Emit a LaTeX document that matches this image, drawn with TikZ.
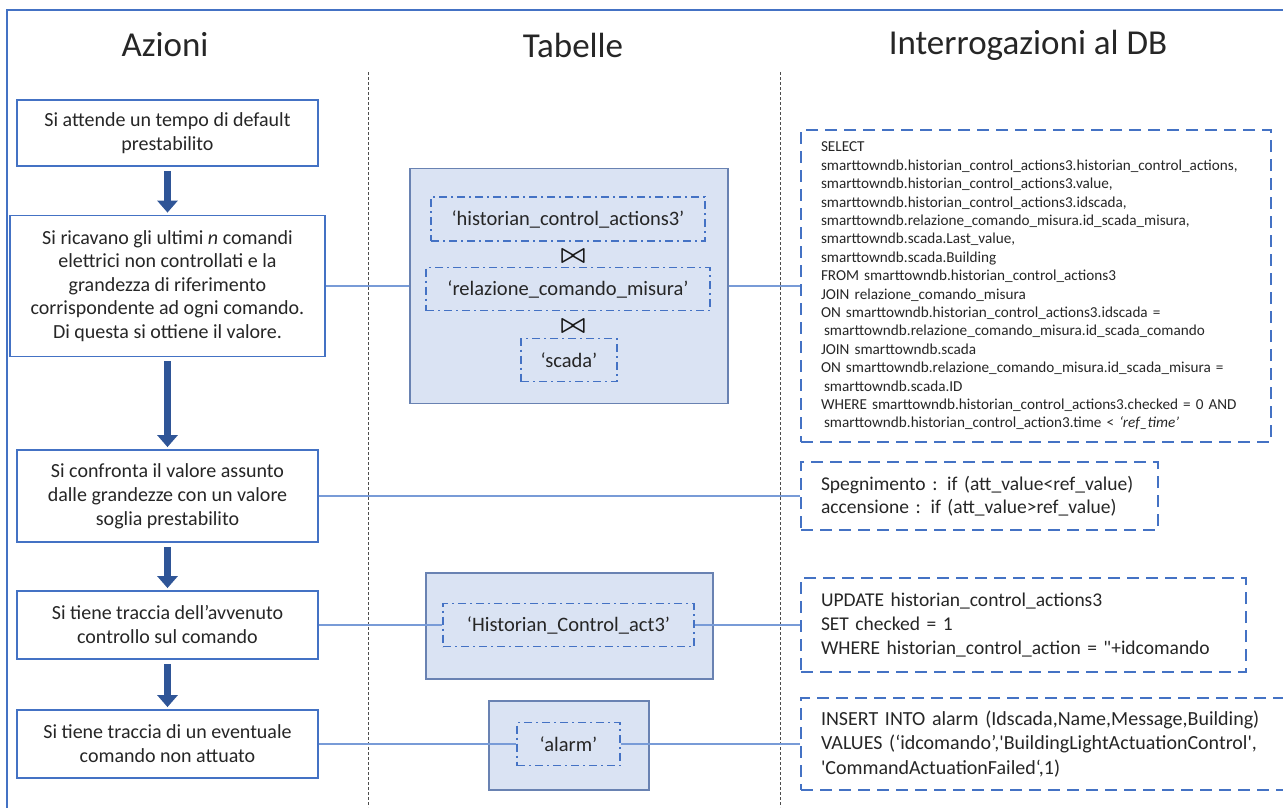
\documentclass[tikz,border=0pt]{standalone}
\usepackage{fontspec}
\setmainfont{Carlito}
\usetikzlibrary{arrows.meta}

\definecolor{ofblue}{RGB}{68,114,196}
\definecolor{ofdark}{RGB}{47,85,151}
\definecolor{tabfill}{RGB}{218,227,243}
\definecolor{tabline}{RGB}{105,130,178}
\definecolor{linkblue}{RGB}{120,155,215}

\begin{document}
\begin{tikzpicture}[x=1pt,y=-1pt,text=black!85,
    action/.style={draw=ofblue,line width=1.8pt,fill=white,align=center,inner sep=0pt,
        font=\fontsize{20}{24}\selectfont},
    tablebox/.style={draw=tabline,line width=1.2pt,fill=tabfill,inner sep=0pt},
    relation/.style={draw=ofblue,line width=1.8pt,dash pattern=on 8pt off 4pt on 2pt off 4pt,
        inner sep=0pt,font=\fontsize{20.5}{24}\selectfont},
    joinsym/.style={inner sep=0pt,text=black!90},
    query/.style={draw=ofblue,line width=2pt,dash pattern=on 12pt off 7pt,anchor=west,
        align=left,inner xsep=20pt,inner ysep=0pt},
    flow/.style={ofdark,line width=7pt,-{Triangle[width=20pt,length=12pt]},
        shorten <=4pt,shorten >=2pt},
    link/.style={linkblue,line width=1.2pt},
    sepline/.style={black!70,line width=0.6pt,densely dashed},
    heading/.style={font=\fontsize{35}{40}\selectfont}]

    \useasboundingbox (0,0) rectangle (1283,807);
    \clip (0,0) rectangle (1283,807);
    \draw[ofblue,line width=1.5pt] (7,815) -- (7,10) -- (1290,10);

    % columns
    \node[heading] (hact) at (165,45) {Azioni};
    \node[heading] (htab) at (573,45) {Tabelle};
    \node[heading] (hqry) at (1028,45) {Interrogazioni al DB};
    \draw[sepline] (368,72) -- (368,807);
    \draw[sepline] (780,72) -- (780,807);

    % azioni
    \node[action,minimum width=301,minimum height=66] (wait) at (167.5,133)
        {Si attende un tempo di default\\prestabilito};
    \node[action,minimum width=315,minimum height=141,font=\fontsize{20}{23.5}\selectfont] (fetch) at (167.5,286)
        {Si ricavano gli ultimi \textit{n} comandi\\elettrici non controllati e la\\grandezza di riferimento\\corrispondente ad ogni comando.\\Di questa si ottiene il valore.};
    \node[action,minimum width=301,minimum height=92] (compare) at (167.5,496)
        {Si confronta il valore assunto\\dalle grandezze con un valore\\soglia prestabilito};
    \node[action,minimum width=301,minimum height=68] (track) at (167.5,625)
        {Si tiene traccia dell’avvenuto\\controllo sul comando};
    \node[action,minimum width=301,minimum height=68] (alarm) at (167.5,744)
        {Si tiene traccia di un eventuale\\comando non attuato};

    \draw[flow] (wait) -- (fetch);
    \draw[flow] (fetch) -- (compare);
    \draw[flow] (compare) -- (track);
    \draw[flow] (track) -- (alarm);

    % tabelle
    \node[tablebox,minimum width=318,minimum height=235] (tjoin) at (569,286) {};
    \node[relation,minimum width=274,minimum height=44] (rhist) at (568,219) {‘historian\_control\_actions3’};
    \node[joinsym] (j1) at (573,256) {\scalebox{2.6}{\boldmath$\bowtie$}};
    \node[relation,minimum width=284,minimum height=43] (rrel) at (568,289) {‘relazione\_comando\_misura’};
    \node[joinsym] (j2) at (573,326) {\scalebox{2.6}{\boldmath$\bowtie$}};
    \node[relation,minimum width=96,minimum height=43] (rscada) at (569,360) {‘scada’};

    \node[tablebox,minimum width=287,minimum height=106] (tupd) at (569.5,626) {};
    \node[relation,minimum width=251,minimum height=43] (rhc) at (568.5,625) {‘Historian\_Control\_act3’};

    \node[tablebox,minimum width=160,minimum height=89] (tins) at (569,745.5) {};
    \node[relation,minimum width=103,minimum height=43] (ralarm) at (568.5,744) {‘alarm’};

    % interrogazioni
    \node[query,text width=430,minimum height=312,font=\fontsize{15.2}{18.4}\selectfont] (qsel) at (800,286)
        {SELECT\\
        smarttowndb.historian\_control\_actions3.historian\_control\_actions,\\
        smarttowndb.historian\_control\_actions3.value,\\
        smarttowndb.historian\_control\_actions3.idscada,\\
        smarttowndb.relazione\_comando\_misura.id\_scada\_misura,\\
        smarttowndb.scada.Last\_value,\\
        smarttowndb.scada.Building\\
        FROM smarttowndb.historian\_control\_actions3\\
        JOIN relazione\_comando\_misura\\
        ON smarttowndb.historian\_control\_actions3.idscada =\\
        \hspace*{3pt}smarttowndb.relazione\_comando\_misura.id\_scada\_comando\\
        JOIN smarttowndb.scada\\
        ON smarttowndb.relazione\_comando\_misura.id\_scada\_misura =\\
        \hspace*{3pt}smarttowndb.scada.ID\\
        WHERE smarttowndb.historian\_control\_actions3.checked = 0 AND\\
        \hspace*{3pt}smarttowndb.historian\_control\_action3.time < \textit{‘ref\_time’}};
    \node[query,text width=317,minimum height=68,font=\fontsize{19.5}{23}\selectfont] (qcmp) at (800,496)
        {Spegnimento : if (att\_value<ref\_value)\\accensione : if (att\_value>ref\_value)};
    \node[query,text width=405,minimum height=94,font=\fontsize{19.5}{24}\selectfont] (qupd) at (800,625)
        {UPDATE historian\_control\_actions3\\SET checked = 1\\WHERE historian\_control\_action = \textquotedbl+idcomando};
    \node[query,text width=460,minimum height=92,font=\fontsize{20}{24.5}\selectfont] (qins) at (800,744)
        {INSERT INTO alarm (Idscada,Name,Message,Building)\\
        VALUES (‘idcomando’,\textquotesingle BuildingLightActuationControl\textquotesingle,\\
        \textquotesingle CommandActuationFailed‘,1)};

    % collegamenti
    \draw[link] (fetch.east) -- (tjoin.west);
    \draw[link] (tjoin.east) -- (qsel.west);
    \draw[link] (compare.east) -- (qcmp.west);
    \draw[link] (track.east) -- (rhc.west);
    \draw[link] (rhc.east) -- (qupd.west);
    \draw[link] (alarm.east) -- (ralarm.west);
    \draw[link] (ralarm.east) -- (qins.west);
\end{tikzpicture}
\end{document}
